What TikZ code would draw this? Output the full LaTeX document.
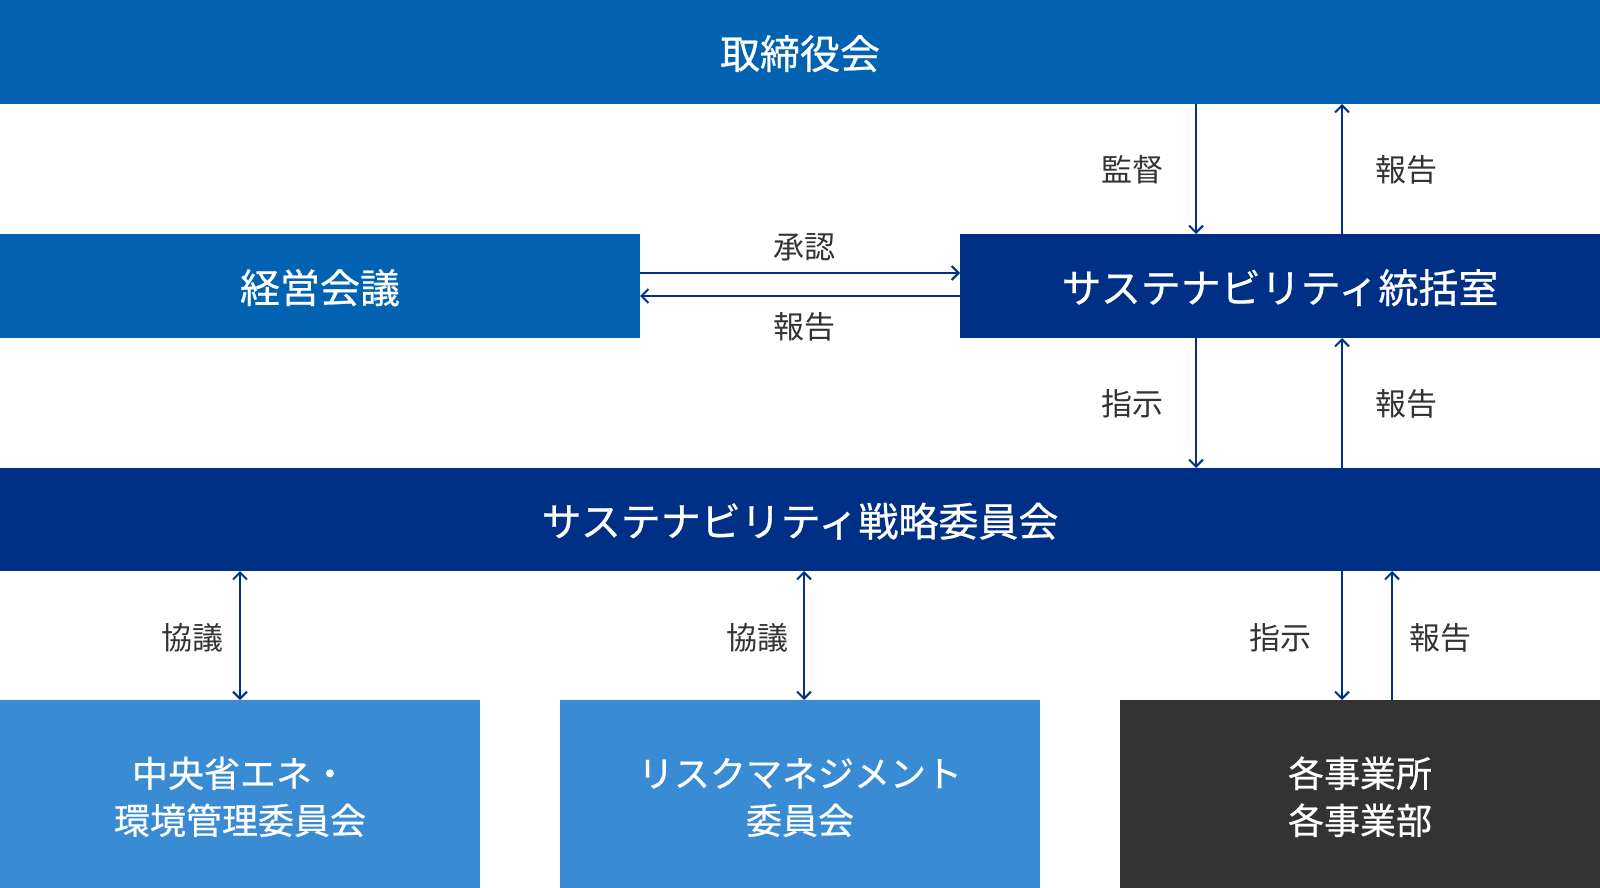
\documentclass[tikz,border=0pt]{standalone}
\usepackage{fontspec}
\newfontfamily\jp{Noto Sans CJK JP}
\newfontfamily\jpm[FakeBold=0.6]{Noto Sans CJK JP}
\usetikzlibrary{arrows.meta}
\definecolor{cblue}{HTML}{0062B1}
\definecolor{cnavy}{HTML}{002F86}
\definecolor{clight}{HTML}{398BD4}
\definecolor{cdark}{HTML}{333333}
\definecolor{cgray}{HTML}{333333}
\definecolor{carrow}{HTML}{00318A}
\newcommand{\twolines}[2]{\raisebox{7pt}[0pt][0pt]{\begin{tabular}[t]{@{}c@{}}#1\\#2\end{tabular}}}
\begin{document}
\begin{tikzpicture}[x=1pt,y=-1pt,
  box/.style={rectangle, inner sep=0pt, outer sep=0pt, anchor=north west, text=white, text depth=0pt,
    font=\jpm\fontsize{40}{48}\selectfont},
  sbox/.style={rectangle, inner sep=0pt, outer sep=0pt, anchor=north west, text=white,
    font=\jpm\fontsize{36}{47}\selectfont},
  lbl/.style={text=cgray, inner sep=0pt, text depth=0pt, font=\jp\fontsize{31}{36}\selectfont},
  arr/.style={draw=carrow, line width=2pt, -{Straight Barb[length=7pt,width=14pt]}},
  darr/.style={draw=carrow, line width=2pt, {Straight Barb[length=7pt,width=14pt]}-{Straight Barb[length=7pt,width=14pt]}}
]
\useasboundingbox (0,0) rectangle (1600,888);
\fill[white] (0,0) rectangle (1600,888);

\node[box, fill=cblue, minimum width=1600pt, minimum height=104pt] (board) at (0,0) {取締役会};
\node[box, fill=cblue, minimum width=640pt, minimum height=104pt] (mgmt) at (0,234) {経営会議};
\node[box, fill=cnavy, minimum width=640pt, minimum height=104pt] (office) at (960,234) {サステナビリティ統括室};
\node[box, fill=cnavy, minimum width=1600pt, minimum height=103pt] (strat) at (0,468) {サステナビリティ戦略委員会};
\node[sbox, fill=clight, minimum width=480pt, minimum height=188pt] (env) at (0,700) {\twolines{中央省エネ・}{環境管理委員会}};
\node[sbox, fill=clight, minimum width=480pt, minimum height=188pt] (risk) at (560,700) {\twolines{リスクマネジメント}{委員会}};
\node[sbox, fill=cdark, minimum width=480pt, minimum height=188pt] (biz) at (1120,700) {\twolines{各事業所}{各事業部}};

% board <-> office
\draw[arr] (board.south -| 1196,0) -- (office.north -| 1196,0);
\draw[arr] (office.north -| 1342,0) -- (board.south -| 1342,0);
\node[lbl] (l1) at (1132,168) {監督};
\node[lbl] (l2) at (1406,168) {報告};

% mgmt <-> office
\draw[arr] (mgmt.east |- 0,273) -- (office.west |- 0,273);
\draw[arr] (office.west |- 0,296) -- (mgmt.east |- 0,296);
\node[lbl] (l3) at (804,246) {承認};
\node[lbl] (l4) at (804,325) {報告};

% office <-> strat
\draw[arr] (office.south -| 1196,0) -- (strat.north -| 1196,0);
\draw[arr] (strat.north -| 1342,0) -- (office.south -| 1342,0);
\node[lbl] (l5) at (1132,402) {指示};
\node[lbl] (l6) at (1406,402) {報告};

% strat <-> bottom
\draw[darr] (strat.south -| 240,0) -- (env.north -| 240,0);
\draw[darr] (strat.south -| 804,0) -- (risk.north -| 804,0);
\draw[arr] (strat.south -| 1342,0) -- (biz.north -| 1342,0);
\draw[arr] (biz.north -| 1392,0) -- (strat.south -| 1392,0);
\node[lbl] (l7) at (192,636) {協議};
\node[lbl] (l8) at (757,636) {協議};
\node[lbl] (l9) at (1280,636) {指示};
\node[lbl] (l10) at (1440,636) {報告};
\end{tikzpicture}
\end{document}
